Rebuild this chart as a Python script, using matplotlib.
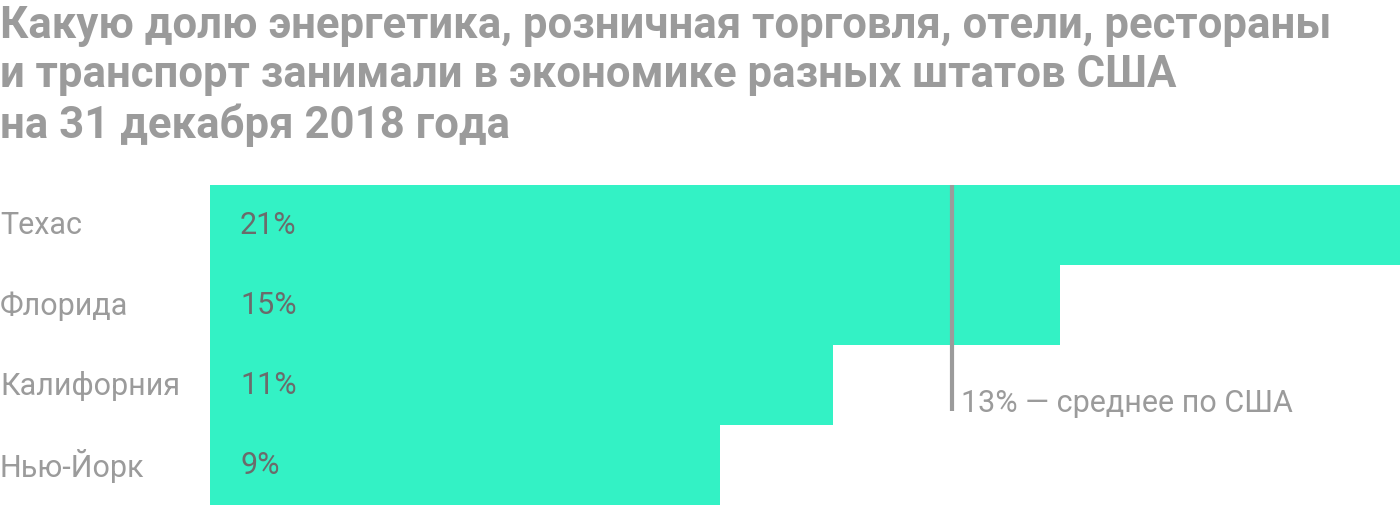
import matplotlib
matplotlib.use("Agg")
import matplotlib.pyplot as plt

states = ["Техас", "Флорида", "Калифорния", "Нью-Йорк"]
shares = [21, 15, 11, 9]
avg_share = 13.1
avg_label = "13% — среднее по США"
title = ("Какую долю энергетика, розничная торговля, отели, рестораны\n"
         "и транспорт занимали в экономике разных штатов США\n"
         "на 31 декабря 2018 года")

W, H = 1400, 506
fig = plt.figure(figsize=(W / 100, H / 100), dpi=100)
plt.rcParams['font.family'] = ['Roboto', 'DejaVu Sans']

bar_color = "#33F2C5"
gray = "#9B9B9B"
dark = "#6B6B6B"

# axes in pixel coords: x 210..1400, y 186..506 (from top)
ax = fig.add_axes([210 / W, 0 / H, (1400 - 210) / W, (506 - 186) / H])
ax.set_xlim(0, 21)
ax.set_ylim(len(states), 0)
ax.axis("off")

ys = [i + 0.5 for i in range(len(states))]
ax.barh(ys, shares, height=1.0, color=bar_color, linewidth=0)

for y, s, v in zip(ys, states, shares):
    ax.annotate(f"{v}%", xy=(0, y), xytext=(30, 0), textcoords="offset pixels",
                ha="left", va="center", fontsize=22, color=dark)
    ax.annotate(s, xy=(0, y), xytext=(-210, 0), textcoords="offset pixels",
                ha="left", va="center", fontsize=22, color=gray, annotation_clip=False)

# average line: from top of bars down to ~y=412 px
bottom_frac = (412 - 186) / (506 - 186) * len(states)
ax.plot([avg_share, avg_share], [0, bottom_frac], color=gray, lw=3,
        solid_capstyle="butt", clip_on=False)
ax.annotate(avg_label, xy=(avg_share, bottom_frac), xytext=(9, 0),
            textcoords="offset pixels", ha="left", va="baseline",
            fontsize=22, color=gray, annotation_clip=False)

fig.text(0 / W, 1 - 5 / H, title, ha="left", va="top", fontsize=31.5,
         fontweight="bold", color=gray, linespacing=1.22)

fig.savefig("out.png", dpi=100, facecolor="white")
